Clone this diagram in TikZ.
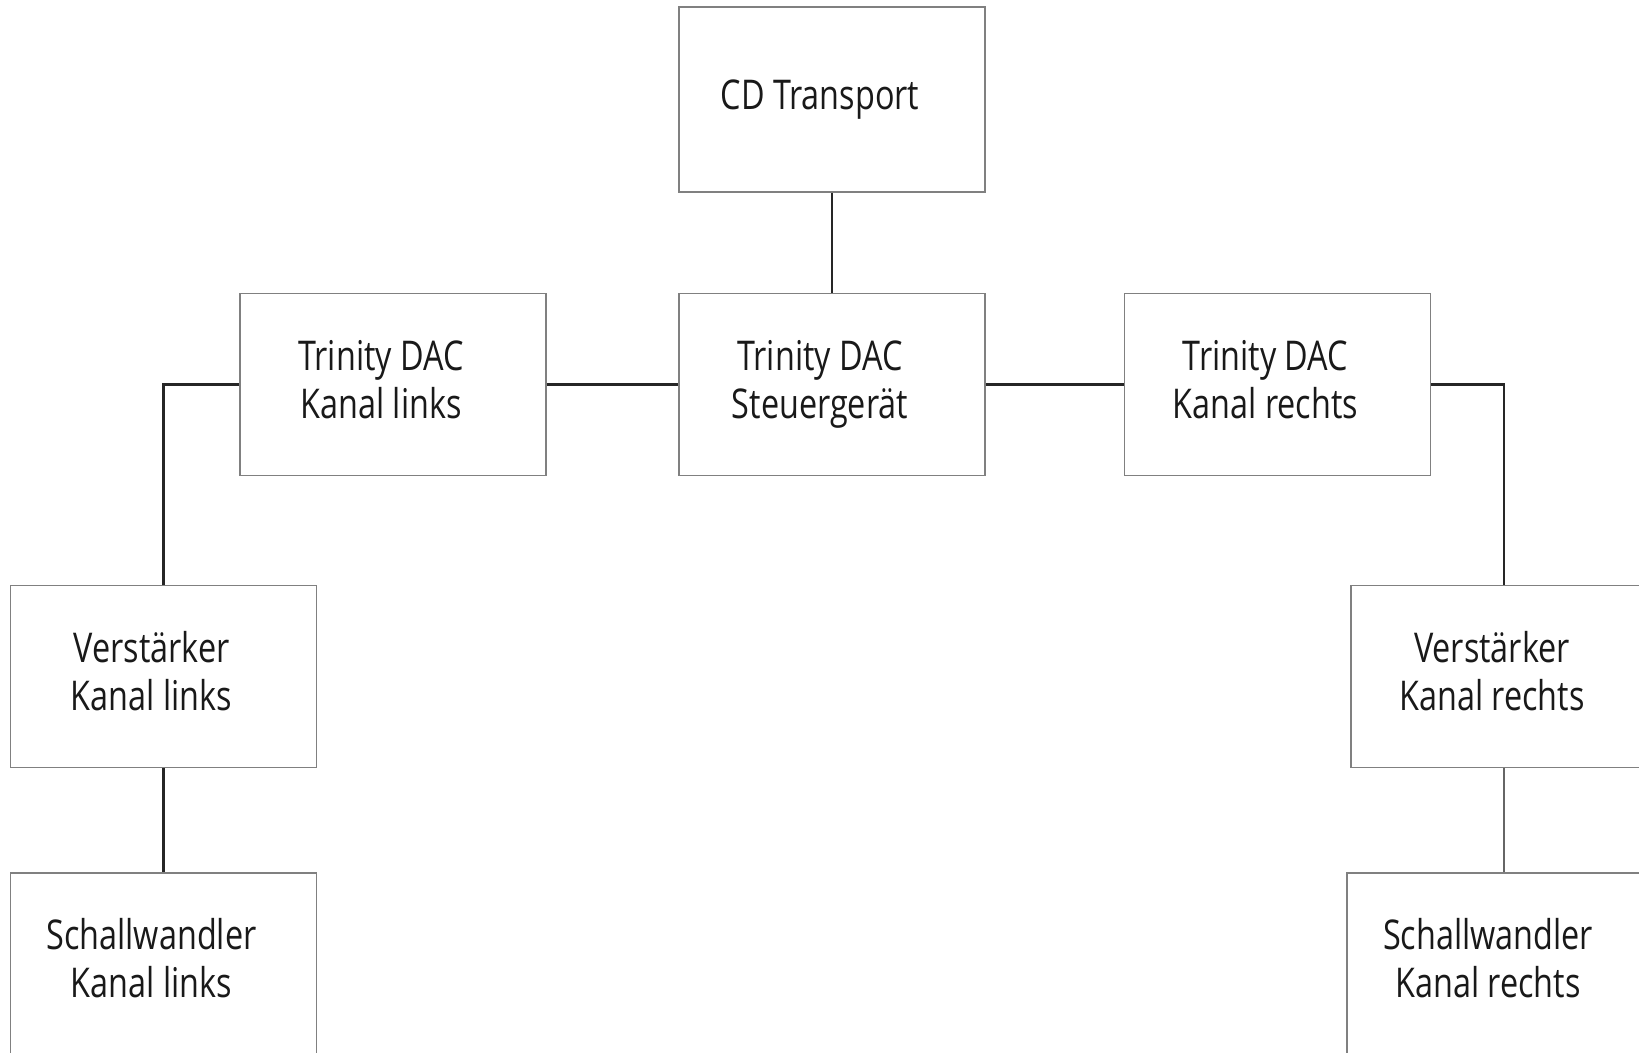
\documentclass[tikz,border=0pt]{standalone}
\usepackage{fontspec}
\setmainfont[FakeStretch=0.79]{Open Sans}
\tikzset{
  box/.style={draw=black!50, line width=0.75pt, fill=white, rectangle,
    minimum width=153pt, minimum height=91pt, inner sep=0pt,
    font=\fontsize{20.5}{24}\selectfont, text=black!90},
  wire/.style={draw=black!85, line width=1.2pt},
  wiregray/.style={draw=black!60, line width=1pt}
}
\newcommand{\lbl}[1]{\raisebox{-2.8pt}{\begin{tabular}{@{}c@{}}#1\end{tabular}}\hspace*{12pt}}
\begin{document}
\begin{tikzpicture}[x=0.5pt,y=-0.5pt]
\useasboundingbox (0,0) rectangle (1639,1053);
\clip (0,0) rectangle (1639,1053);
\node[box, minimum height=92.5pt] (cd) at (832,99.5) {\lbl{CD Transport}};
\node[box] (st) at (832,384.5) {\lbl{Trinity DAC\\Steuergerät}};
\node[box] (dl) at (393,384.5) {\lbl{Trinity DAC\\Kanal links}};
\node[box] (dr) at (1277.5,384.5) {\lbl{Trinity DAC\\Kanal rechts}};
\node[box] (vl) at (163.5,676.5) {\lbl{Verstärker\\Kanal links}};
\node[box] (vr) at (1504,676.5) {\lbl{Verstärker\\Kanal rechts}};
\node[box] (sl) at (163.5,964) {\lbl{Schallwandler\\Kanal links}};
\node[box] (sr) at (1500,964) {\lbl{Schallwandler\\Kanal rechts}};
\draw[wire] (cd.south) -- (st.north);
\draw[wire] (dl.east) -- (st.west);
\draw[wire] (st.east) -- (dr.west);
\draw[wire] (dl.west) -| (vl.north);
\draw[wire] (dr.east) -| (vr.north);
\draw[wire] (vl.south) -- (sl.north);
\draw[wiregray] (vr.south) -- (vr.south |- sr.north);
\end{tikzpicture}
\end{document}
